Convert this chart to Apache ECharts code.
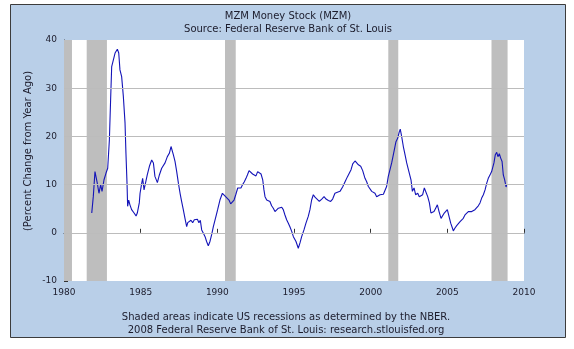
<!DOCTYPE html>
<html>
<head>
<meta charset="utf-8">
<script src="https://cdn.jsdelivr.net/npm/echarts@6/dist/echarts.min.js"></script>
<style>
  html, body { margin: 0; padding: 0; background: #ffffff; }
  #chart { width: 574px; height: 349px; }
</style>
</head>
<body>
<div id="chart"></div>
<script>
// MZM money stock, percent change from a year ago: [decimal year, percent]
const mzm1980s = [
  [1981.81, 4.1], [1981.91, 7.5], [1982.02, 12.7], [1982.09, 12.4], [1982.17, 10.3],
  [1982.28, 8.2], [1982.39, 10.0], [1982.48, 8.6], [1982.61, 11.0], [1982.74, 12.4],
  [1982.85, 13.4], [1982.91, 13.1], [1982.96, 19.3], [1983.04, 27.6], [1983.11, 34.5],
  [1983.22, 35.9], [1983.33, 37.3], [1983.48, 38.1], [1983.57, 37.3], [1983.65, 33.8],
  [1983.76, 32.4], [1983.87, 28.3], [1983.98, 22.8], [1984.04, 16.5], [1984.11, 10.3],
  [1984.15, 5.5], [1984.22, 6.8], [1984.30, 5.8], [1984.41, 4.8], [1984.57, 4.1],
  [1984.70, 3.5], [1984.78, 4.1], [1984.91, 6.2], [1984.96, 8.2], [1985.07, 10.3],
  [1985.13, 11.3], [1985.22, 8.9], [1985.35, 9.3], [1985.43, 12.0], [1985.57, 13.8],
  [1985.72, 15.1], [1985.83, 14.5], [1985.93, 11.7], [1986.09, 10.4], [1986.22, 12.0],
  [1986.37, 13.4], [1986.48, 13.1], [1986.59, 14.5], [1986.74, 15.8], [1986.87, 16.5],
  [1986.98, 17.9], [1987.04, 17.6], [1987.13, 16.2], [1987.24, 14.8], [1987.35, 12.7],
  [1987.46, 10.3], [1987.57, 8.2], [1987.67, 6.5], [1987.78, 4.8], [1987.89, 3.0],
  [1988.00, 1.3], [1988.07, 2.1], [1988.17, 1.9], [1988.28, 2.6], [1988.39, 2.1],
  [1988.50, 2.7], [1988.61, 2.3], [1988.70, 2.8], [1988.80, 2.1], [1988.89, 2.6],
  [1988.98, 0.6], [1989.09, -0.1], [1989.20, -0.8], [1989.30, -1.8], [1989.41, -2.7],
  [1989.52, -1.8], [1989.63, -0.4], [1989.74, 1.3], [1989.91, 3.4]
];
const mzm1990s = [
  [1990.02, 4.8], [1990.17, 6.8], [1990.33, 8.2], [1990.46, 7.9], [1990.54, 7.5],
  [1990.65, 7.5], [1990.76, 6.8], [1990.87, 6.0], [1990.98, 5.8], [1991.09, 6.8],
  [1991.20, 7.9], [1991.33, 9.3], [1991.43, 9.6], [1991.54, 9.3], [1991.65, 10.0],
  [1991.76, 10.6], [1991.87, 11.3], [1991.96, 12.0], [1992.07, 12.9], [1992.20, 12.7],
  [1992.30, 12.2], [1992.41, 12.0], [1992.52, 11.8], [1992.63, 12.7], [1992.74, 13.1],
  [1992.85, 12.2], [1992.96, 11.0], [1993.04, 8.9], [1993.11, 7.5], [1993.22, 6.8],
  [1993.33, 7.0], [1993.43, 6.5], [1993.54, 5.6], [1993.65, 5.1], [1993.76, 4.4],
  [1993.87, 4.8], [1993.98, 5.1], [1994.09, 5.1], [1994.20, 5.3], [1994.30, 4.8],
  [1994.41, 3.7], [1994.52, 2.7], [1994.63, 2.0], [1994.74, 1.2], [1994.85, 0.3],
  [1994.96, -0.8], [1995.13, -1.8], [1995.28, -3.2], [1995.39, -2.1], [1995.50, -0.8],
  [1995.65, 0.6], [1995.78, 2.0], [1995.93, 3.4], [1996.04, 4.8], [1996.15, 6.8],
  [1996.26, 7.9], [1996.37, 7.4], [1996.48, 7.2], [1996.65, 6.5], [1996.81, 7.0],
  [1996.96, 7.5], [1997.09, 7.0], [1997.24, 6.7], [1997.39, 6.5], [1997.52, 7.0],
  [1997.67, 8.2], [1997.83, 8.4], [1998.00, 8.6], [1998.17, 9.5], [1998.33, 10.6],
  [1998.48, 11.6], [1998.61, 12.0], [1998.72, 13.1], [1998.83, 14.3], [1998.98, 14.9],
  [1999.09, 14.6], [1999.20, 14.1], [1999.35, 13.8], [1999.48, 12.9], [1999.63, 11.3],
  [1999.74, 10.6], [1999.85, 9.6], [1999.96, 9.3]
];
const mzm2000s = [
  [2000.07, 8.6], [2000.17, 8.9], [2000.28, 8.2], [2000.39, 7.5], [2000.50, 7.4],
  [2000.61, 7.9], [2000.72, 7.5], [2000.83, 8.0], [2000.93, 7.7], [2001.04, 9.6],
  [2001.15, 11.7], [2001.26, 13.1], [2001.37, 14.5], [2001.48, 16.2], [2001.54, 15.8],
  [2001.65, 18.9], [2001.76, 19.6], [2001.87, 21.0], [2001.93, 21.5], [2002.02, 20.0],
  [2002.13, 17.9], [2002.24, 16.2], [2002.35, 14.5], [2002.46, 13.1], [2002.57, 12.7],
  [2002.63, 11.0], [2002.72, 8.6], [2002.83, 9.3], [2002.93, 7.9], [2003.07, 8.2],
  [2003.17, 7.5], [2003.28, 7.5], [2003.39, 7.9], [2003.50, 9.3], [2003.61, 8.9],
  [2003.72, 7.5], [2003.83, 6.2], [2003.93, 4.1], [2004.02, 3.7], [2004.13, 4.4],
  [2004.24, 5.1], [2004.35, 5.8], [2004.46, 4.4], [2004.59, 3.0], [2004.70, 3.4],
  [2004.80, 4.1], [2005.00, 4.8], [2005.11, 3.4], [2005.22, 2.0], [2005.33, 1.0],
  [2005.39, 0.4], [2005.50, 1.0], [2005.61, 1.5], [2005.72, 1.7], [2005.83, 2.3],
  [2005.93, 2.0], [2006.04, 3.0], [2006.15, 3.7], [2006.26, 4.1], [2006.37, 4.4],
  [2006.48, 4.8], [2006.59, 4.4], [2006.70, 4.1], [2006.80, 4.8], [2006.91, 5.1],
  [2007.02, 5.6], [2007.13, 6.2], [2007.24, 7.2], [2007.35, 7.9], [2007.46, 8.9],
  [2007.57, 10.3], [2007.67, 11.3], [2007.78, 12.0], [2007.89, 12.7], [2007.96, 12.9],
  [2008.04, 14.5], [2008.13, 16.2], [2008.22, 16.7], [2008.30, 15.8], [2008.39, 16.4],
  [2008.48, 15.5], [2008.57, 14.8], [2008.65, 12.0], [2008.74, 11.0], [2008.83, 9.5],
  [2008.87, 10.0]
];

// NBER recession periods (decimal years, start / end)
const recessions = [
  [1980.0, 1980.52],
  [1981.48, 1982.8],
  [1990.5, 1991.2],
  [2001.15, 2001.8],
  [2007.88, 2008.93]
];

// horizontal reference lines inside the plot
const gridValues = [0, 10, 20, 30];

const titleLines = ['MZM Money Stock (MZM)', 'Source: Federal Reserve Bank of St. Louis'];
const footerLines = [
  'Shaded areas indicate US recessions as determined by the NBER.',
  '2008 Federal Reserve Bank of St. Louis: research.stlouisfed.org'
];
const yAxisTitle = '(Percent Change from Year Ago)';

const FONT = 'DejaVu Sans';
const TEXT = '#1c1c2c';
const GRID_GRAY = '#bcbcbc';

const chart = echarts.init(document.getElementById('chart'), null, { renderer: 'canvas' });

function label(text, x, y, extra) {
  return Object.assign({
    type: 'text', x: x, y: y, silent: true,
    style: { text: text, font: '10px "' + FONT + '"', fill: TEXT, textAlign: 'center', textVerticalAlign: 'middle' }
  }, extra || {});
}

const option = {
  animation: false,
  backgroundColor: '#ffffff',
  graphic: [
    {
      type: 'rect', z: -10, silent: true,
      shape: { x: 10.5, y: 4.5, width: 555, height: 333 },
      style: { fill: '#B9CFE8', stroke: '#3c3c3c', lineWidth: 1 }
    },
    label(titleLines[0], 288, 16.5),
    label(titleLines[1], 288, 29),
    label(footerLines[0], 286, 317),
    label(footerLines[1], 286, 330.5),
    label(yAxisTitle, 28, 151, { rotation: Math.PI / 2 })
  ],
  grid: {
    left: 64, top: 40, width: 460, height: 241,
    show: false
  },
  xAxis: {
    type: 'value', min: 1980, max: 2010, interval: 5,
    axisLine: { lineStyle: { color: '#333333', width: 1 } },
    axisTick: { inside: true, length: 4, lineStyle: { color: '#333333' } },
    axisLabel: { fontFamily: FONT, fontSize: 9, color: TEXT, margin: 7, formatter: v => String(v) },
    splitLine: { show: false }
  },
  yAxis: {
    type: 'value', min: -10, max: 40, interval: 10,
    axisLine: { show: true, lineStyle: { color: '#333333', width: 1 } },
    axisTick: { show: true, inside: true, length: 4, lineStyle: { color: '#333333' } },
    axisLabel: { fontFamily: FONT, fontSize: 9, color: TEXT, margin: 7 },
    // white plot background between the value ticks
    splitArea: { show: true, areaStyle: { color: ['#ffffff'] } },
    splitLine: { show: false }
  },
  series: [
    {
      // gridlines
      type: 'line', data: [], z: 1, silent: true,
      markLine: {
        silent: true,
        symbol: ['none', 'none'],
        label: { show: false },
        lineStyle: { color: GRID_GRAY, width: 1, type: 'solid' },
        data: gridValues.map(v => ({ yAxis: v }))
      }
    },
    {
      // recession shading
      type: 'line', data: [], z: 2, silent: true,
      markArea: {
        silent: true,
        itemStyle: { color: '#BEBEBE' },
        data: recessions.map(r => [{ xAxis: r[0] }, { xAxis: r[1] }])
      }
    },
    {
      type: 'line', z: 3,
      data: mzm1980s.concat(mzm1990s, mzm2000s),
      showSymbol: false,
      lineStyle: { color: '#1414B8', width: 1.1 },
      emphasis: { disabled: true }
    }
  ]
};

chart.setOption(option);
</script>
</body>
</html>
